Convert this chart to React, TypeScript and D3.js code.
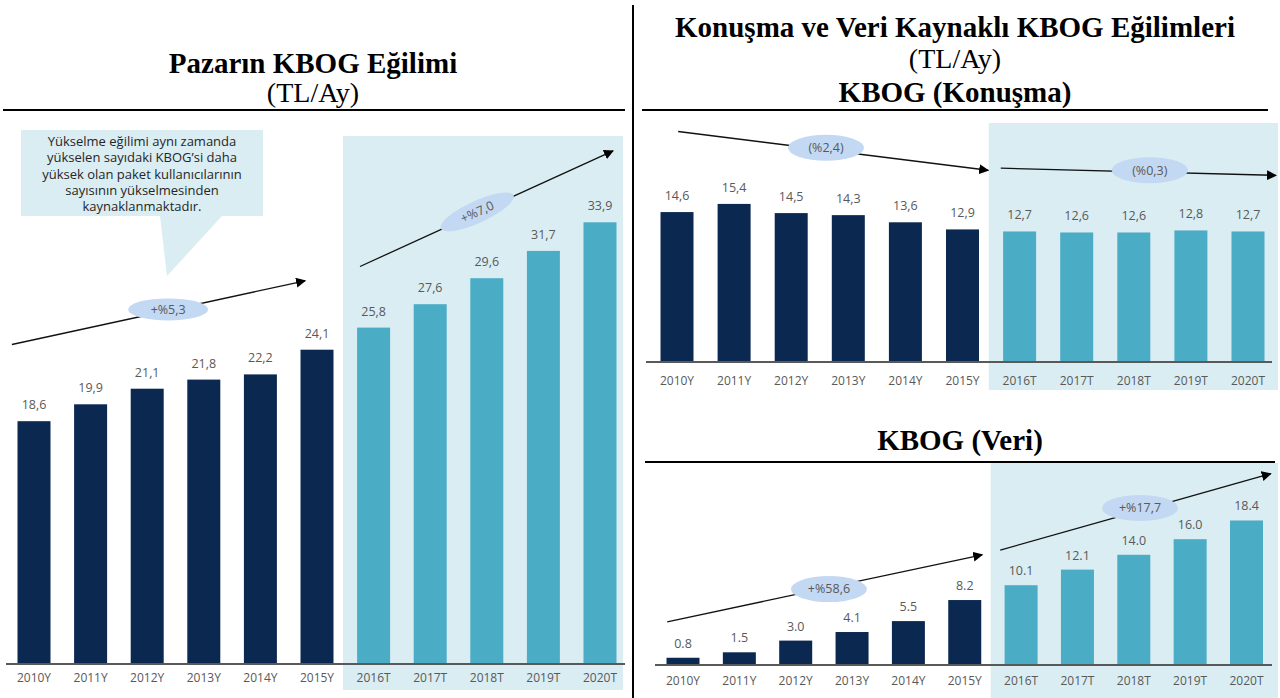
import React from "react";
import * as d3 from "d3";

const categories = ["2010Y", "2011Y", "2012Y", "2013Y", "2014Y", "2015Y", "2016T", "2017T", "2018T", "2019T", "2020T"];
const actualCount = 6;
const pazarValues = [18.6, 19.9, 21.1, 21.8, 22.2, 24.1, 25.8, 27.6, 29.6, 31.7, 33.9];
const konusmaValues = [14.6, 15.4, 14.5, 14.3, 13.6, 12.9, 12.7, 12.6, 12.6, 12.8, 12.7];
const veriValues = [0.8, 1.5, 3.0, 4.1, 5.5, 8.2, 10.1, 12.1, 14.0, 16.0, 18.4];

const calloutLines = [
  "Yükselme eğilimi aynı zamanda",
  "yükselen sayıdaki KBOG’si daha",
  "yüksek olan paket kullanıcılarının",
  "sayısının yükselmesinden",
  "kaynaklanmaktadır.",
];

// trend annotations in data space: [categoryIndex, value]
type Trend = { label: string; from: [number, number]; to: [number, number]; at: [number, number]; rotate: boolean };
const pazarTrends: Trend[] = [
  { label: "+%5,3", from: [-0.39, 24.5], to: [4.79, 29.4], at: [2.37, 27.2], rotate: false },
  { label: "+%7,0", from: [5.76, 30.5], to: [10.23, 39.4], at: [7.83, 34.7], rotate: true },
];
const konusmaTrends: Trend[] = [
  { label: "(%2,4)", from: [0.02, 22.5], to: [5.45, 18.7], at: [2.61, 20.9], rotate: false },
  { label: "(%0,3)", from: [5.67, 18.9], to: [10.49, 18.2], at: [8.28, 18.7], rotate: false },
];
const veriTrends: Trend[] = [
  { label: "+%58,6", from: [-0.28, 5.4], to: [5.31, 14.0], at: [2.59, 9.6], rotate: false },
  { label: "+%17,7", from: [5.63, 14.6], to: [10.43, 24.4], at: [8.11, 20.0], rotate: false },
];

const NAVY = "#0b2950";
const TEAL = "#4bacc6";
const SHADE = "#daedf3";
const ELLIPSE = "#c3d8f2";
const GRAY = "#595959";
const LABEL_FONT = "'Open Sans', 'DejaVu Sans', sans-serif";
const SERIF = "'Liberation Serif', 'Times New Roman', serif";

type PanelProps = {
  values: number[];
  trends: Trend[];
  decimalComma: boolean;
  c0: number;
  c10: number;
  baseline: number;
  yMax: number;
  yMaxPx: number;
  barW: number;
  shadeTop: number;
  shadeBottom: number;
  shadeRight: number;
  axisLeft: number;
  axisRight: number;
  labelGap: number;
  xLabelY: number;
  rx: number;
  ry: number;
};

function Panel(p: PanelProps) {
  const xi = d3.scaleLinear().domain([0, categories.length - 1]).range([p.c0, p.c10]);
  const y = d3.scaleLinear().domain([0, p.yMax]).range([p.baseline, p.yMaxPx]);
  const fmt = (v: number) => {
    const s = d3.format(".1f")(v);
    return p.decimalComma ? s.replace(".", ",") : s;
  };
  const shadeLeft = xi(actualCount - 0.54);
  return (
    <g>
      <rect x={shadeLeft} y={p.shadeTop} width={p.shadeRight - shadeLeft} height={p.shadeBottom - p.shadeTop} fill={SHADE} />
      {p.values.map((v, i) => (
        <g key={i}>
          <rect
            x={xi(i) - p.barW / 2}
            y={y(v)}
            width={p.barW}
            height={p.baseline - y(v)}
            fill={i < actualCount ? NAVY : TEAL}
          />
          <text
            x={xi(i)}
            y={y(v) - p.labelGap}
            textAnchor="middle"
            fontFamily={LABEL_FONT}
            fontSize={12.5}
            fill={GRAY}
          >
            {fmt(v)}
          </text>
          <text x={xi(i)} y={p.xLabelY} textAnchor="middle" fontFamily={LABEL_FONT} fontSize={12} fill={GRAY}>
            {categories[i]}
          </text>
        </g>
      ))}
      <line x1={p.axisLeft} x2={p.axisRight} y1={p.baseline + 1} y2={p.baseline + 1} stroke={GRAY} strokeWidth={2} />
      {p.trends.map((t, k) => {
        const x1 = xi(t.from[0]);
        const y1 = y(t.from[1]);
        const x2 = xi(t.to[0]);
        const y2 = y(t.to[1]);
        const ang = (Math.atan2(y2 - y1, x2 - x1) * 180) / Math.PI;
        const cx = xi(t.at[0]);
        const cy = y(t.at[1]);
        const rot = t.rotate ? ang : 0;
        return (
          <g key={k}>
            <line x1={x1} y1={y1} x2={x2} y2={y2} stroke="#111" strokeWidth={1.3} markerEnd="url(#arrowHead)" />
            <g transform={`translate(${cx},${cy}) rotate(${rot})`}>
              <ellipse rx={p.rx} ry={p.ry} fill={ELLIPSE} />
              <text textAnchor="middle" dy="0.35em" fontFamily={LABEL_FONT} fontSize={12.5} fill={GRAY}>
                {t.label}
              </text>
            </g>
          </g>
        );
      })}
    </g>
  );
}

export default function App() {
  return (
    <svg width={1280} height={698} style={{ position: "absolute", left: 0, top: 0, background: "#fff" }}>
      <defs>
        <marker id="arrowHead" viewBox="0 0 10 10" refX="9" refY="5" markerWidth="10" markerHeight="10" markerUnits="userSpaceOnUse" orient="auto">
          <path d="M0,0 L10,5 L0,10 Z" fill="#000" />
        </marker>
      </defs>
      <rect width={1280} height={698} fill="#fff" />

      {/* Left titles */}
      <text x={313} y={73} textAnchor="middle" fontFamily={SERIF} fontWeight="bold" fontSize={29} fill="#000">
        Pazarın KBOG Eğilimi
      </text>
      <text x={313} y={102} textAnchor="middle" fontFamily={SERIF} fontSize={28} fill="#000">
        (TL/Ay)
      </text>
      <line x1={3} x2={625} y1={110} y2={110} stroke="#000" strokeWidth={2} />

      {/* Divider */}
      <line x1={633} x2={633} y1={5} y2={698} stroke="#000" strokeWidth={2} />

      {/* Right titles */}
      <text x={955} y={37} textAnchor="middle" fontFamily={SERIF} fontWeight="bold" fontSize={29} fill="#000">
        Konuşma ve Veri Kaynaklı KBOG Eğilimleri
      </text>
      <text x={955} y={68} textAnchor="middle" fontFamily={SERIF} fontSize={28} fill="#000">
        (TL/Ay)
      </text>
      <text x={955} y={102} textAnchor="middle" fontFamily={SERIF} fontWeight="bold" fontSize={29} fill="#000">
        KBOG (Konuşma)
      </text>
      <line x1={642} x2={1268} y1={110} y2={110} stroke="#000" strokeWidth={2} />
      <text x={960} y={450} textAnchor="middle" fontFamily={SERIF} fontWeight="bold" fontSize={29} fill="#000">
        KBOG (Veri)
      </text>
      <line x1={645} x2={1275} y1={462} y2={462} stroke="#000" strokeWidth={2} />

      {/* Left chart */}
      <Panel
        values={pazarValues}
        trends={pazarTrends}
        decimalComma={true}
        c0={34}
        c10={600}
        baseline={663}
        yMax={40}
        yMaxPx={663 - 13 * 40}
        barW={33}
        shadeTop={136}
        shadeBottom={690}
        shadeRight={623}
        axisLeft={6}
        axisRight={625}
        labelGap={12}
        xLabelY={682}
        rx={40}
        ry={11}
      />
      {/* Callout */}
      <path d="M21,130 H263 V216 H222 L167,276 L160,216 H21 Z" fill={SHADE} />
      {calloutLines.map((l, i) => (
        <text key={i} x={142} y={146 + i * 16.3} textAnchor="middle" fontFamily={LABEL_FONT} fontSize={13} fill="#262626">
          {l}
        </text>
      ))}

      {/* Right top chart */}
      <Panel
        values={konusmaValues}
        trends={konusmaTrends}
        decimalComma={true}
        c0={677}
        c10={1248}
        baseline={361}
        yMax={24}
        yMaxPx={361 - 10.2 * 24}
        barW={33}
        shadeTop={123}
        shadeBottom={390}
        shadeRight={1278}
        axisLeft={646}
        axisRight={1272}
        labelGap={12}
        xLabelY={385}
        rx={38}
        ry={13}
      />

      {/* Right bottom chart */}
      <Panel
        values={veriValues}
        trends={veriTrends}
        decimalComma={false}
        c0={683}
        c10={1246.5}
        baseline={664}
        yMax={25}
        yMaxPx={664 - 7.8 * 25}
        barW={33}
        shadeTop={463}
        shadeBottom={698}
        shadeRight={1278}
        axisLeft={655}
        axisRight={1272}
        labelGap={10}
        xLabelY={685}
        rx={38}
        ry={13}
      />
    </svg>
  );
}
